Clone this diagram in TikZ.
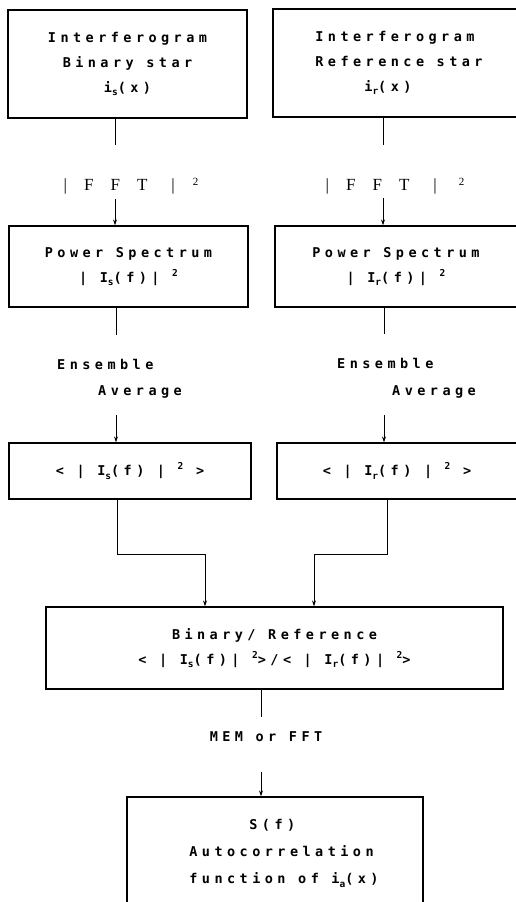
\documentclass[tikz,border=0pt]{standalone}
\usepackage{fontspec}
\usetikzlibrary{arrows.meta}
\newfontfamily\tw{DejaVu Sans Mono}[LetterSpace=33]
\newfontfamily\ser{Liberation Serif}
\newcommand\lsub[1]{\raisebox{-0.45ex}{\fontsize{9.5}{9.5}\selectfont #1}}
\newcommand\lsup[1]{\raisebox{0.8ex}{\fontsize{9.5}{9.5}\selectfont #1}}
\tikzset{
  txt/.style={font=\tw\bfseries\fontsize{13.5}{25}\selectfont, inner sep=0pt},
  box/.style={txt, draw, line width=1.2pt, align=center},
  conn/.style={line width=0.9pt},
  arr/.style={conn, -{Stealth[length=6pt,width=4pt]}},
  fftlbl/.style={font=\ser\fontsize{17}{19}\selectfont, inner sep=0pt}
}
\begin{document}
\begin{tikzpicture}[x=1pt,y=-1pt]
\useasboundingbox (0,0) rectangle (516,902);
\clip (0,0) rectangle (516,902);
\fill[white] (0,0) rectangle (516,902);

% boxes
\node[box, minimum width=239pt, minimum height=108pt] (b1) at (127.5,64)
  {Interferogram\\Binary star\\i\lsub{s}(x)};
\node[box, align=left, minimum width=244pt, minimum height=108pt] (b2) at (395,63)
  {\hspace*{8pt}Interferogram\\\hspace*{8pt}Reference star\\\hspace*{57pt}i\lsub{r}(x)};
\node[box, minimum width=239pt, minimum height=81pt] (b3) at (128.5,266.5)
  {Power Spectrum\\| I\lsub{s}(f)| \lsup{2}};
\node[box, minimum width=242pt, minimum height=81pt] (b4) at (396,266.5)
  {Power Spectrum\\| I\lsub{r}(f)| \lsup{2}};
\node[box, minimum width=242pt, minimum height=56pt] (b5) at (130,471)
  {< | I\lsub{s}(f) | \lsup{2} >};
\node[box, minimum width=240pt, minimum height=56pt] (b6) at (397,471)
  {< | I\lsub{r}(f) | \lsup{2} >};
\node[box, minimum width=457pt, minimum height=82pt] (b7) at (274.5,648)
  {Binary/ Reference\\< | I\lsub{s}(f)| \lsup{2}>/< | I\lsub{r}(f)| \lsup{2}>};
\node[box, align=left, minimum width=296pt, minimum height=113pt, font=\tw\bfseries\fontsize{13.5}{27}\selectfont] (b8) at (275,853.5)
  {\hspace*{78pt}S(f)\\\hspace*{18pt}Autocorrelation\\\hspace*{18pt}function of i\lsub{a}(x)};

% labels
\node[fftlbl] (fft1) at (131,186) {|\hspace{17pt}F\hspace{17pt}F\hspace{17pt}T\hspace{24pt}|\hspace{18pt}\raisebox{0.7ex}{\fontsize{11}{11}\selectfont 2}};
\node[fftlbl] (fft2) at (395,186) {|\hspace{17pt}F\hspace{17pt}F\hspace{17pt}T\hspace{24pt}|\hspace{22pt}\raisebox{0.7ex}{\fontsize{11}{11}\selectfont 2}};
\node[txt, anchor=base west] (ens1) at (57,369) {Ensemble};
\node[txt, anchor=base west] (avg1) at (98,395) {Average};
\node[txt, anchor=base west] (ens2) at (337,368) {Ensemble};
\node[txt, anchor=base west] (avg2) at (392,395) {Average};
\node[txt] (mem) at (266,737) {MEM or FFT};

% connector points
\coordinate (l1) at (115,145); \coordinate (l2) at (115,199);
\coordinate (l3) at (116,335); \coordinate (l4) at (116,415);
\coordinate (r1) at (383,145); \coordinate (r2) at (383,198);
\coordinate (r3) at (384,334); \coordinate (r4) at (384,415);
\coordinate (m1) at (117,554); \coordinate (m2) at (205,554);
\coordinate (n1) at (387,554); \coordinate (n2) at (314,554);
\coordinate (k1) at (261,717); \coordinate (k2) at (261,772);

% connectors
\draw[conn] (l1 |- b1.south) -- (l1);
\draw[arr] (l2) -- (l2 |- b3.north);
\draw[conn] (l3 |- b3.south) -- (l3);
\draw[arr] (l4) -- (l4 |- b5.north);
\draw[conn] (r1 |- b2.south) -- (r1);
\draw[arr] (r2) -- (r2 |- b4.north);
\draw[conn] (r3 |- b4.south) -- (r3);
\draw[arr] (r4) -- (r4 |- b6.north);
\draw[arr] (m1 |- b5.south) -- (m1) -- (m2) -- (m2 |- b7.north);
\draw[arr] (n1 |- b6.south) -- (n1) -- (n2) -- (n2 |- b7.north);
\draw[conn] (k1 |- b7.south) -- (k1);
\draw[arr] (k2) -- (k2 |- b8.north);
\end{tikzpicture}
\end{document}
